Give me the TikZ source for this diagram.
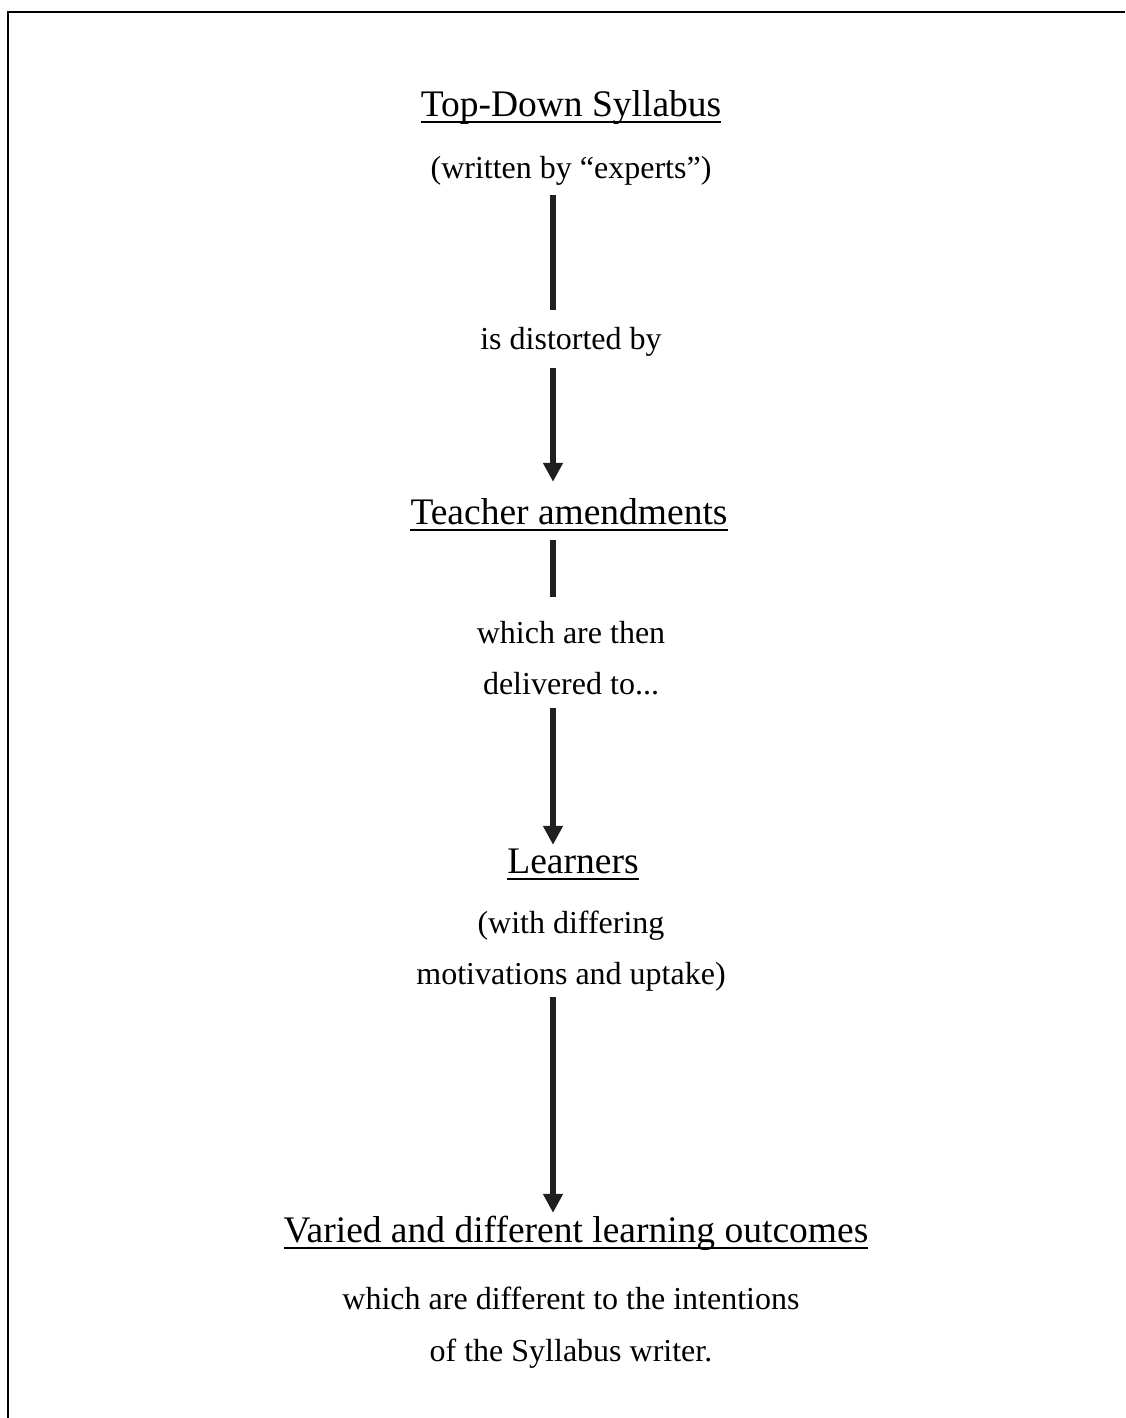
\documentclass[tikz,border=0pt]{standalone}
\usepackage{fontspec}
\setmainfont{Liberation Serif}
\usetikzlibrary{arrows.meta}
\definecolor{conncol}{HTML}{1F1F1F}
\begin{document}
\begin{tikzpicture}[x=1pt,y=-1pt,
  small/.style={anchor=base,inner sep=0pt,text height=23pt,text depth=8pt,font=\fontsize{32}{38}\selectfont},
  big/.style={anchor=base,inner sep=0pt,text height=27pt,text depth=9pt,font=\fontsize{37.5}{44}\selectfont},
  conn/.style={draw=conncol,line width=5.5pt},
  arr/.style={conn,-{Triangle[width=19pt,length=19pt]}},
  uline/.style={line width=2pt},
  frame/.style={line width=2.2pt}]
\useasboundingbox (0,0) rectangle (1125,1418);
\draw[frame] (1125,12) -- (8,12) -- (8,1418);
\coordinate (ax) at (553,0);

\node[big]   (t1) at (571,117)  {Top-Down Syllabus};
\node[small] (s1) at (571,178)  {(written by “experts”)};
\node[small] (s2) at (571,349)  {is distorted by};
\node[big]   (t2) at (569,524)  {Teacher amendments};
\node[small] (s3) at (571,643)  {which are then};
\node[small] (s4) at (571,694)  {delivered to...};
\node[big]   (t3) at (573,873)  {Learners};
\node[small] (s5) at (571,933)  {(with differing};
\node[small] (s6) at (571,984)  {motivations and uptake)};
\node[big]   (t4) at (576,1242) {Varied and different learning outcomes};
\node[small] (s7) at (571,1309) {which are different to the intentions};
\node[small] (s8) at (571,1361) {of the Syllabus writer.};

\foreach \n in {t1,t2,t3,t4}
  \draw[uline] ([yshift=-5.5pt]\n.base west) -- ([yshift=-5.5pt]\n.base east);

\draw[conn] (s1.south -| ax) [shorten <=9pt, shorten >=16pt] -- (s2.north -| ax);
\draw[arr]  (s2.south -| ax) [shorten <=11pt, shorten >=15pt] -- (t2.north -| ax);
\draw[conn] (t2.south -| ax) [shorten <=7pt, shorten >=23pt] -- (s3.north -| ax);
\draw[arr]  (s4.south -| ax) [shorten <=6pt, shorten >=1pt] -- (t3.north -| ax);
\draw[arr]  (s6.south -| ax) [shorten <=5pt, shorten >=2pt] -- (t4.north -| ax);
\end{tikzpicture}
\end{document}
